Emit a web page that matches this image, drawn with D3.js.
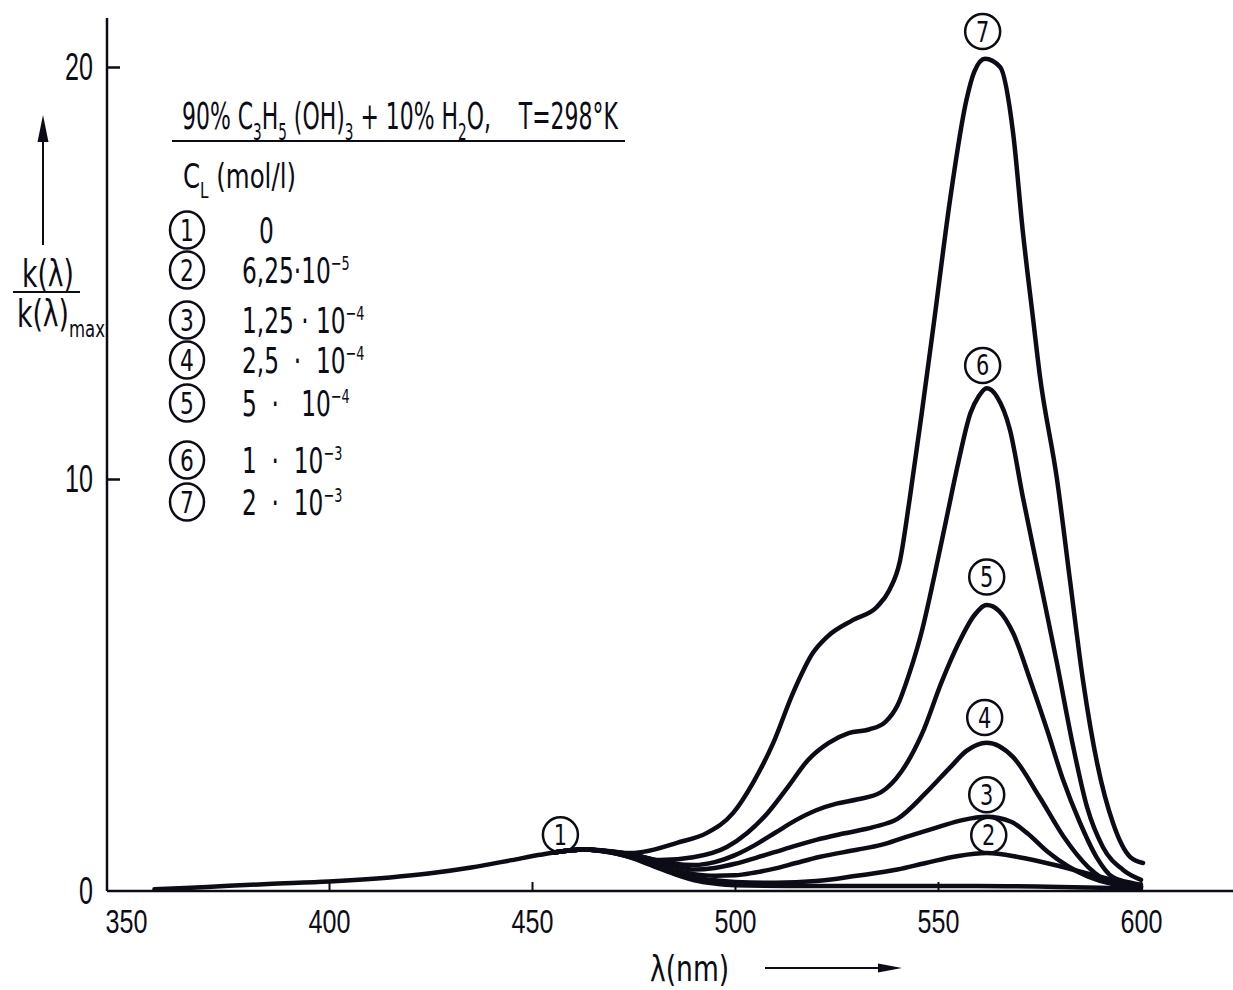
<!DOCTYPE html>
<html>
<head>
<meta charset="utf-8">
<script src="https://cdn.jsdelivr.net/npm/d3@7"></script>
<style>
  html, body { margin: 0; background: #fff; }
  svg { display: block; font-family: "Liberation Sans Narrow", "DejaVu Sans Condensed", "Arial Narrow", sans-serif; font-stretch: condensed; }
  text { white-space: pre; }
</style>
</head>
<body>
<div id="chart"></div>
<script>
// tick values
const wavelengthTicks = [350, 400, 450, 500, 550, 600];
const kTicks = [0, 10, 20];

// legend: curve number, concentration mantissa and exponent
const curveIds = [1, 2, 3, 4, 5, 6, 7];
const concMantissa = ['0', '6,25·10', '1,25 · 10', '2,5  ·  10', '5  ·   10', '1  ·  10', '2  ·  10'];
const concExponent = ['', '−5', '−4', '−4', '−4', '−3', '−3'];

// spectra: [lambda (nm), k/kmax]
const spectrum1 = [[357, 0.04], [370, 0.1], [385, 0.17], [400, 0.23], [415, 0.33], [425, 0.43], [435, 0.57],
  [445, 0.75], [452, 0.88], [458, 0.97], [463, 1.01], [468, 0.97], [474, 0.82], [480, 0.6], [486, 0.38],
  [490, 0.26], [495, 0.18], [500, 0.14], [520, 0.12], [540, 0.12], [560, 0.12], [580, 0.1], [590, 0.08], [600, 0.05]];
const spectrum2 = [[455, 0.93], [463, 1.01], [470, 0.92], [475, 0.8], [480, 0.62], [485, 0.45], [490, 0.33],
  [495, 0.26], [500, 0.22], [510, 0.2], [520, 0.24], [530, 0.37], [540, 0.52], [547, 0.68], [555, 0.85],
  [562, 0.92], [570, 0.82], [580, 0.6], [587, 0.42], [593, 0.27], [600, 0.1]];
const spectrum3 = [[455, 0.93], [463, 1.01], [470, 0.93], [475, 0.82], [480, 0.65], [485, 0.5], [490, 0.41],
  [495, 0.37], [500, 0.38], [505, 0.45], [510, 0.55], [515, 0.68], [521, 0.83], [530, 1.0], [536, 1.12],
  [542, 1.31], [550, 1.55], [556, 1.72], [562, 1.8], [568, 1.68], [572, 1.4], [577, 0.95], [582, 0.6],
  [587, 0.35], [593, 0.17], [600, 0.1]];
const spectrum4 = [[455, 0.93], [463, 1.01], [470, 0.94], [475, 0.85], [480, 0.72], [485, 0.6], [490, 0.52],
  [495, 0.56], [500, 0.66], [505, 0.8], [510, 0.95], [515, 1.1], [520, 1.24], [527, 1.4], [534, 1.55],
  [540, 1.75], [547, 2.38], [553, 3.0], [557, 3.4], [562, 3.6], [568.5, 3.25], [575, 2.28], [581, 1.31],
  [587, 0.58], [593, 0.19], [600, 0.1]];
const spectrum5 = [[455, 0.93], [463, 1.01], [470, 0.95], [475, 0.88], [480, 0.76], [485, 0.66], [490, 0.63],
  [495, 0.7], [500, 0.87], [505, 1.12], [510, 1.42], [515, 1.72], [520, 1.96], [525, 2.12], [530, 2.22],
  [536, 2.4], [541, 2.9], [546, 3.8], [551, 5.1], [555, 6.0], [559, 6.7], [562, 6.94], [565, 6.8],
  [568.5, 6.26], [572.7, 5.12], [576.9, 3.9], [580.8, 2.7], [585, 1.65], [589, 0.83], [593, 0.34],
  [598, 0.19], [600, 0.15]];
const spectrum6 = [[455, 0.93], [463, 1.01], [470, 0.96], [475, 0.88], [481.5, 0.75], [489.7, 0.82], [498, 1.07],
  [503, 1.41], [508, 1.89], [513, 2.52], [518, 3.18], [523, 3.59], [528, 3.83], [533, 3.92], [537, 4.1],
  [540, 4.5], [543, 5.3], [546, 6.3], [549, 7.6], [552, 9.0], [555, 10.4], [558, 11.6], [560, 12.0],
  [562, 12.2], [564.5, 12.0], [567.7, 11.2], [570.9, 9.56], [575.1, 7.55], [579.3, 5.53], [583.3, 3.5],
  [586.7, 2.04], [590.6, 1.07], [595.6, 0.51], [600, 0.27]];
const spectrum7 = [[455, 0.93], [463, 1.01], [468, 0.97], [473.4, 0.92], [477.3, 0.95], [485.7, 1.17],
  [493.1, 1.41], [499.5, 1.89], [504.4, 2.62], [509.4, 3.59], [514.3, 4.81], [519.2, 5.78], [522.7, 6.17],
  [529.1, 6.58], [535, 6.9], [538, 7.3], [540.6, 8.0], [543, 9.5], [546, 11.6], [549, 13.8], [553, 16.8],
  [557, 19.2], [559, 19.9], [561.6, 20.2], [565.3, 20.0], [568.5, 18.4], [570.9, 16.0], [573.4, 13.9],
  [575.1, 12.5], [579.3, 10.0], [582.5, 7.55], [585.7, 5.12], [589.2, 3.1], [593.1, 1.65], [597.3, 0.83],
  [600.5, 0.68]];
const spectra = [spectrum1, spectrum2, spectrum3, spectrum4, spectrum5, spectrum6, spectrum7];

// where the circled numbers sit along each curve (nm)
const markerLambda = [457, 562.5, 562, 561.5, 562, 561, 561];

const W = 1233, H = 990;
const ink = '#0c0c16';

const svg = d3.select('#chart').append('svg')
  .attr('width', W).attr('height', H)
  .attr('viewBox', [0, 0, W, H]);

const x = d3.scaleLinear().domain([350, 600]).range([126, 1141]);
const y = d3.scaleLinear().domain([0, 20]).range([891, 67]);

// the drawing uses a tall narrow lettering: squeeze text horizontally about its anchor
function squeeze(sel, sx) {
  sel.each(function () {
    const t = d3.select(this);
    const x0 = +t.attr('x') || 0;
    t.attr('transform', `translate(${x0},0) scale(${sx},1) translate(${-x0},0)`);
  });
}

// stretch a text to a given width starting at its x
function fitWidth(sel, width) {
  const w = sel.node().getBBox().width;
  const x0 = +sel.attr('x');
  sel.attr('transform', `translate(${x0},0) scale(${width / w},1) translate(${-x0},0)`);
}

// helper: text made of normal / sub / sup pieces
function richText(sel, pieces, size) {
  let shift = 0;
  pieces.forEach(([str, kind]) => {
    const t = sel.append('tspan').text(str);
    let target = 0, fs = size;
    if (kind === 'sub') { target = size * 0.28; fs = size * 0.62; }
    if (kind === 'sup') { target = -size * 0.36; fs = size * 0.55; }
    t.attr('dy', target - shift).attr('font-size', fs);
    shift = target;
  });
  return sel;
}

// axes lines
svg.append('line').attr('x1', 107).attr('x2', W).attr('y1', y(0)).attr('y2', y(0))
  .attr('stroke', ink).attr('stroke-width', 2.5);
svg.append('line').attr('x1', 107).attr('x2', 107).attr('y1', 18).attr('y2', y(0))
  .attr('stroke', ink).attr('stroke-width', 2.5);

const gx = svg.append('g').attr('transform', `translate(0,${y(0)})`)
  .call(d3.axisBottom(x).tickValues(wavelengthTicks).tickSizeInner(-9).tickSizeOuter(0).tickPadding(18));
gx.select('.domain').remove();
gx.selectAll('.tick').filter(d => d === 350).select('line').remove();
gx.selectAll('.tick line').attr('stroke', ink).attr('stroke-width', 2);
gx.selectAll('.tick text').attr('font-size', 34).attr('fill', ink).attr('font-family', null).call(squeeze, 0.74);

const gy = svg.append('g').attr('transform', 'translate(107,0)')
  .call(d3.axisLeft(y).tickValues(kTicks).tickSizeInner(-13).tickSizeOuter(0).tickPadding(14));
gy.select('.domain').remove();
gy.selectAll('.tick').filter(d => d === 0).select('line').remove();
gy.selectAll('.tick line').attr('stroke', ink).attr('stroke-width', 2.5);
gy.selectAll('.tick text').attr('font-size', 38).attr('fill', ink).attr('font-family', null).call(squeeze, 0.66);

// y label with arrow
svg.append('line').attr('x1', 43).attr('x2', 43).attr('y1', 245).attr('y2', 135)
  .attr('stroke', ink).attr('stroke-width', 2);
svg.append('path').attr('d', 'M43,115 L37.5,142 L48.5,142 Z').attr('fill', ink);
svg.append('text').attr('x', 48).attr('y', 287).attr('text-anchor', 'middle')
  .attr('fill', ink).attr('font-size', 37).text('k(λ)').call(squeeze, 0.8);
svg.append('line').attr('x1', 13).attr('x2', 80).attr('y1', 292).attr('y2', 292)
  .attr('stroke', ink).attr('stroke-width', 2);
richText(svg.append('text').attr('x', 17).attr('y', 327).attr('fill', ink), [['k(λ)', null], ['max', 'sub']], 37)
  .call(squeeze, 0.8);

// x label with arrow
svg.append('text').attr('x', 650).attr('y', 981).attr('fill', ink).attr('font-size', 36).text('λ(nm)')
  .call(squeeze, 0.82);
svg.append('line').attr('x1', 765).attr('x2', 885).attr('y1', 968).attr('y2', 968)
  .attr('stroke', ink).attr('stroke-width', 2);
svg.append('path').attr('d', 'M902,968 L878,963.5 L878,972.5 Z').attr('fill', ink);

// title block
const title = svg.append('text').attr('x', 182).attr('y', 129).attr('fill', ink);
richText(title, [['90% C', null], ['3', 'sub'], ['H', null], ['5', 'sub'], [' (OH)', null], ['3', 'sub'],
  [' + 10% H', null], ['2', 'sub'], ['O,    T=298°K', null]], 38);
fitWidth(title, 437);
svg.append('line').attr('x1', 172).attr('x2', 625).attr('y1', 141).attr('y2', 141)
  .attr('stroke', ink).attr('stroke-width', 2);
richText(svg.append('text').attr('x', 183).attr('y', 188).attr('fill', ink),
  [['C', null], ['L', 'sub'], [' (mol/l)', null]], 34).call(squeeze, 0.8);

// legend
const legendY = [230, 270, 320, 360, 403, 460, 502];
const legend = svg.append('g').selectAll('g').data(curveIds).join('g')
  .attr('transform', (d, i) => `translate(187,${legendY[i]})`);
legend.append('ellipse').attr('rx', 17).attr('ry', 18.5)
  .attr('fill', 'none').attr('stroke', ink).attr('stroke-width', 2.5);
legend.append('text').attr('text-anchor', 'middle').attr('y', 11).attr('font-size', 31)
  .attr('fill', ink).text(d => d).call(squeeze, 0.78);
legend.append('text').attr('x', (d, i) => i === 0 ? 72 : 55).attr('y', 13).attr('fill', ink)
  .each(function (d, i) {
    richText(d3.select(this), [[concMantissa[i], null], [concExponent[i], 'sup']], 35);
  })
  .call(squeeze, 0.74);

// curves
const line = d3.line().x(d => x(d[0])).y(d => y(d[1])).curve(d3.curveMonotoneX);

function valueAt(data, lam) {
  const i = d3.bisector(d => d[0]).left(data, lam);
  if (i <= 0) return data[0][1];
  if (i >= data.length) return data[data.length - 1][1];
  const a = data[i - 1], b = data[i];
  return a[1] + (b[1] - a[1]) * (lam - a[0]) / (b[0] - a[0]);
}

const markerLift = [17, 18, 22, 26, 28, 27, 30];
const markers = svg.append('g').selectAll('g').data(curveIds).join('g')
  .attr('transform', (d, i) => `translate(${x(markerLambda[i])},${y(valueAt(spectra[i], markerLambda[i])) - markerLift[i]})`);
markers.append('circle').attr('r', 17.5).attr('fill', '#fff').attr('stroke', ink).attr('stroke-width', 2.5);
markers.append('text').attr('text-anchor', 'middle').attr('y', 10).attr('font-size', 29)
  .attr('fill', ink).text(d => d).call(squeeze, 0.8);

svg.append('g').selectAll('path').data(spectra).join('path')
  .attr('d', line)
  .attr('fill', 'none')
  .attr('stroke', ink)
  .attr('stroke-width', 4.5)
  .attr('stroke-linejoin', 'round')
  .attr('stroke-linecap', 'round');
</script>
</body>
</html>
